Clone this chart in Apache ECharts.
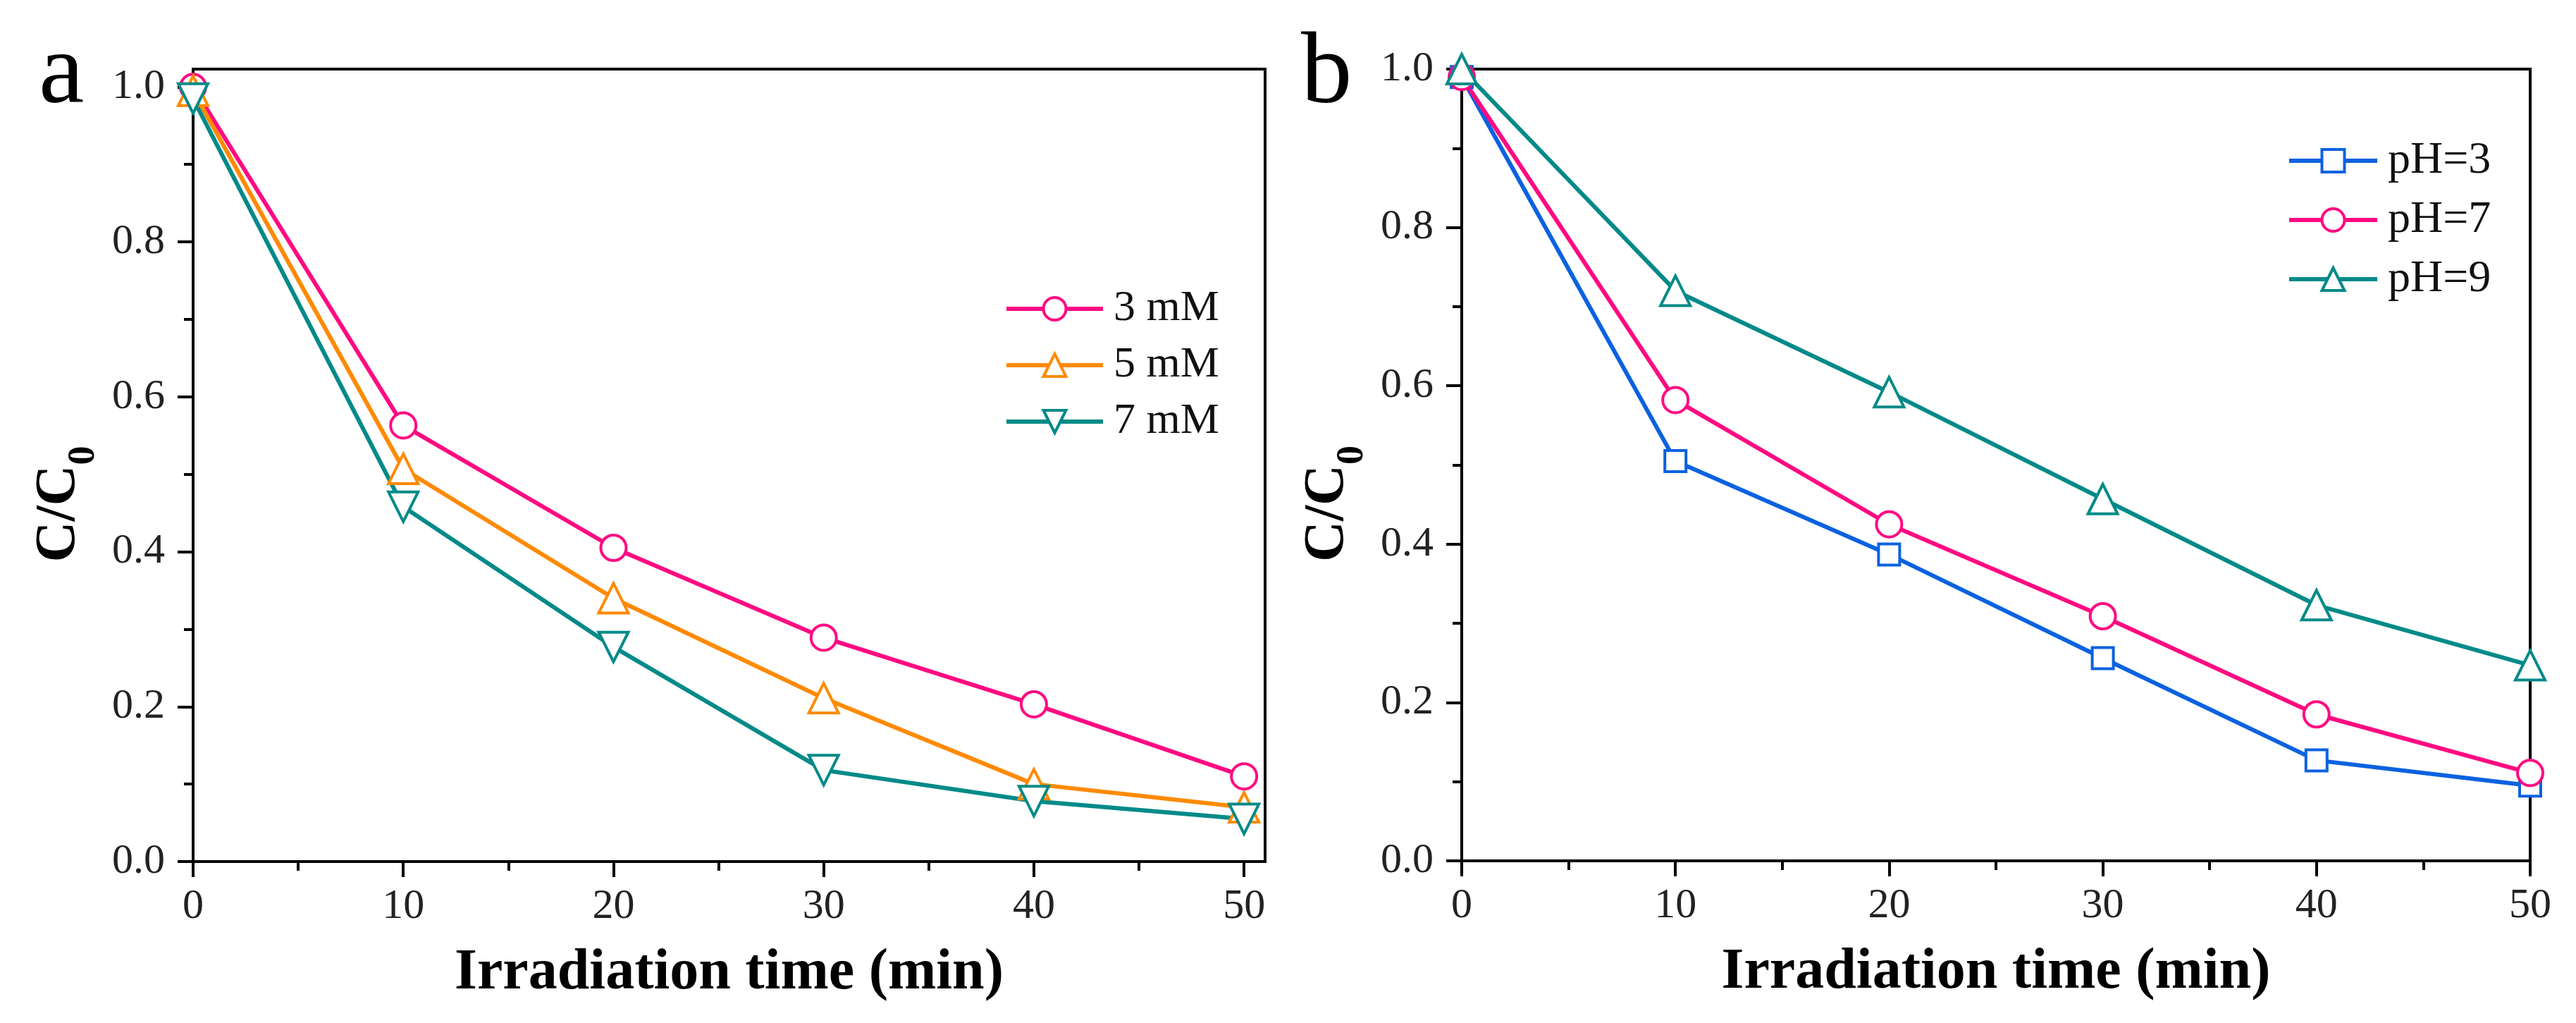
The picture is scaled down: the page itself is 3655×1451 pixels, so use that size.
<!DOCTYPE html>
<html>
<head>
<meta charset="utf-8">
<script src="https://cdn.jsdelivr.net/npm/echarts@6/dist/echarts.min.js"></script>
<style>
  html, body { margin: 0; padding: 0; background: #fff; }
  #chart { width: 3655px; height: 1451px; }
</style>
</head>
<body>
<div id="chart"></div>
<script>
// 数据
var time = [0, 10, 20, 30, 40, 50];
// 图 a：不同浓度
var mM3 = [1.0, 0.563, 0.405, 0.289, 0.203, 0.110];
var mM5 = [0.995, 0.507, 0.340, 0.211, 0.100, 0.070];
var mM7 = [0.985, 0.458, 0.277, 0.118, 0.078, 0.055];
// 图 b：不同 pH
var pH3 = [0.99, 0.505, 0.387, 0.256, 0.127, 0.095];
var pH7 = [0.99, 0.582, 0.425, 0.309, 0.185, 0.111];
var pH9 = [1.0, 0.720, 0.592, 0.457, 0.323, 0.247];
// 刻度
var xTicks = [0, 10, 20, 30, 40, 50];
var xMinorTicks = [5, 15, 25, 35, 45];
var yTicks = [0, 0.2, 0.4, 0.6, 0.8, 1.0];
var yMinorTicks = [0.1, 0.3, 0.5, 0.7, 0.9];

var PINK = '#ff0a82', ORANGE = '#ff8a00', TEAL = '#008a88', BLUE = '#0a62e0';
var SERIF = '"Liberation Serif", "Times New Roman", serif';

var chart = echarts.init(document.getElementById('chart'));

function mainX(max, gi) {
  return {
    type: 'value', gridIndex: gi, min: 0, max: max, position: 'bottom',
    name: 'Irradiation time (min)', nameLocation: 'middle', nameGap: 118,
    nameTextStyle: { fontFamily: SERIF, fontWeight: 'bold', fontSize: 82, color: '#000' },
    axisLine: { show: true, lineStyle: { color: '#000', width: 4 } },
    axisTick: { show: true, length: 22, lineStyle: { color: '#000', width: 4 }, customValues: xTicks },
    axisLabel: { customValues: xTicks, fontFamily: SERIF, fontSize: 60, color: '#222', margin: 34 },
    splitLine: { show: false }
  };
}
function minorX(max, gi) {
  return {
    type: 'value', gridIndex: gi, min: 0, max: max, position: 'bottom',
    axisLine: { show: false },
    axisTick: { show: true, length: 13, lineStyle: { color: '#000', width: 4 }, customValues: xMinorTicks },
    axisLabel: { show: false },
    splitLine: { show: false }
  };
}
function mainY(max, gi) {
  return {
    type: 'value', gridIndex: gi, min: 0, max: max, position: 'left',
    name: '{c|C/C}{s|0}', nameLocation: 'middle', nameGap: 128, nameRotate: 90,
    nameTextStyle: {
      padding: [0, 110, 0, 0],
      rich: {
        c: { fontFamily: SERIF, fontWeight: 'bold', fontSize: 80, color: '#000', padding: [0, 0, 22, 0] },
        s: { fontFamily: SERIF, fontWeight: 'bold', fontSize: 54, color: '#000', verticalAlign: 'bottom' }
      }
    },
    axisLine: { show: true, lineStyle: { color: '#000', width: 4 } },
    axisTick: { show: true, length: 22, lineStyle: { color: '#000', width: 4 }, customValues: yTicks },
    axisLabel: {
      customValues: yTicks, fontFamily: SERIF, fontSize: 60, color: '#222', margin: 40,
      formatter: function (v) { return v.toFixed(1); }
    },
    splitLine: { show: false }
  };
}
function minorY(max, gi) {
  return {
    type: 'value', gridIndex: gi, min: 0, max: max, position: 'left',
    axisLine: { show: false },
    axisTick: { show: true, length: 13, lineStyle: { color: '#000', width: 4 }, customValues: yMinorTicks },
    axisLabel: { show: false },
    splitLine: { show: false }
  };
}

function line(name, values, color, symbol, size, rotate, axisIdx) {
  return {
    name: name, type: 'line', xAxisIndex: axisIdx, yAxisIndex: axisIdx,
    data: time.map(function (t, i) { return [t, values[i]]; }),
    symbol: symbol, symbolSize: size, symbolRotate: rotate,
    lineStyle: { color: color, width: 6 },
    itemStyle: { color: '#fff', borderColor: color, borderWidth: 4 },
    emphasis: { disabled: true },
    animation: false
  };
}

var legendText = { fontFamily: SERIF, color: '#111', padding: [0, 0, 0, 10] };

var option = {
  backgroundColor: '#fff',
  animation: false,
  grid: [
    { left: 274, right: 1860, top: 98, bottom: 229, show: true, borderColor: '#000', borderWidth: 4, backgroundColor: 'transparent' },
    { left: 2074, right: 65, top: 98, bottom: 230, show: true, borderColor: '#000', borderWidth: 4, backgroundColor: 'transparent' }
  ],
  xAxis: [mainX(51, 0), minorX(51, 0), mainX(50, 1), minorX(50, 1)],
  yAxis: [mainY(1.023, 0), minorY(1.023, 0), mainY(1.0, 1), minorY(1.0, 1)],
  legend: [
    {
      data: ['3 mM', '5 mM', '7 mM'], orient: 'vertical', left: 1420, top: 402,
      itemWidth: 137, itemHeight: 40, itemGap: 18,
      lineStyle: { width: 6 }, itemStyle: { borderWidth: 4 },
      textStyle: Object.assign({ fontSize: 62 }, legendText)
    },
    {
      data: ['pH=3', 'pH=7', 'pH=9'], orient: 'vertical', left: 3240, top: 191,
      itemWidth: 125, itemHeight: 40, itemGap: 20,
      lineStyle: { width: 6 }, itemStyle: { borderWidth: 4 },
      textStyle: Object.assign({ fontSize: 64 }, legendText)
    }
  ],
  graphic: [
    { type: 'text', left: 55, top: 34, style: { text: 'a', font: '145px ' + SERIF, fill: '#000' } },
    { type: 'text', left: 1846, top: 34, style: { text: 'b', font: '145px ' + SERIF, fill: '#000' } }
  ],
  series: [
    line('3 mM', mM3, PINK, 'circle', 36, 0, 0),
    line('5 mM', mM5, ORANGE, 'triangle', 42, 0, 0),
    line('7 mM', mM7, TEAL, 'triangle', 42, 180, 0),
    line('pH=3', pH3, BLUE, 'rect', 30, 0, 2),
    line('pH=7', pH7, PINK, 'circle', 36, 0, 2),
    line('pH=9', pH9, TEAL, 'triangle', 42, 0, 2)
  ]
};
chart.setOption(option);
</script>
</body>
</html>
